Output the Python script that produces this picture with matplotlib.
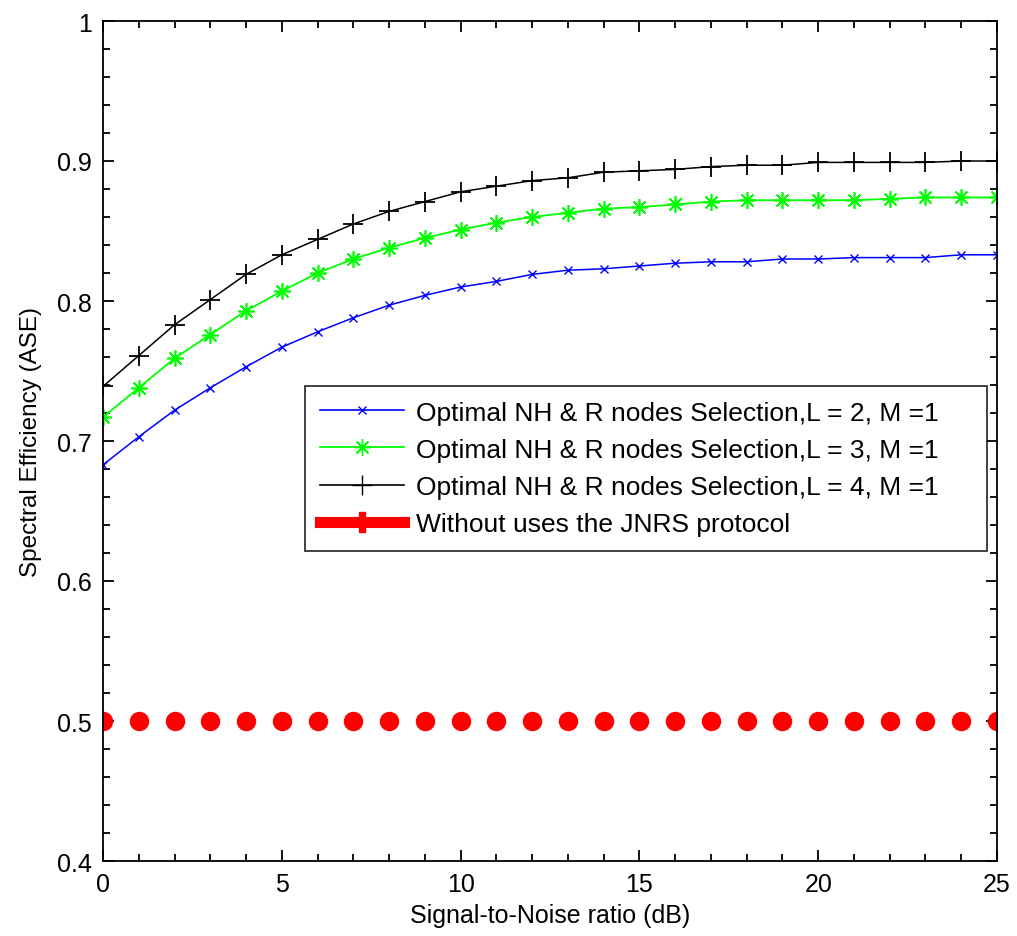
import matplotlib
matplotlib.use("Agg")
import matplotlib.pyplot as plt
from matplotlib.lines import Line2D
from matplotlib.ticker import MultipleLocator

plt.rcParams['font.family'] = ['Liberation Sans', 'DejaVu Sans']

snr = list(range(0, 26))

ase_l2 = [0.683, 0.703, 0.722, 0.738, 0.753, 0.767, 0.778, 0.788, 0.797, 0.804,
          0.810, 0.814, 0.819, 0.822, 0.823, 0.825, 0.827, 0.828, 0.828, 0.830,
          0.830, 0.831, 0.831, 0.831, 0.833, 0.833]
ase_l3 = [0.717, 0.738, 0.759, 0.776, 0.793, 0.807, 0.820, 0.830, 0.838, 0.845,
          0.851, 0.856, 0.860, 0.863, 0.866, 0.867, 0.869, 0.871, 0.872, 0.872,
          0.872, 0.872, 0.873, 0.874, 0.874, 0.874]
ase_l4 = [0.739, 0.761, 0.783, 0.801, 0.819, 0.833, 0.844, 0.855, 0.864, 0.871,
          0.878, 0.882, 0.886, 0.888, 0.892, 0.893, 0.894, 0.896, 0.897, 0.897,
          0.899, 0.899, 0.899, 0.899, 0.900, 0.900]
ase_base = [0.5] * len(snr)

labels = ["Optimal NH & R nodes Selection,L = 2, M =1",
          "Optimal NH & R nodes Selection,L = 3, M =1",
          "Optimal NH & R nodes Selection,L = 4, M =1",
          "Without uses the JNRS protocol"]

fig = plt.figure(figsize=(10.17, 9.37), dpi=100)
ax = fig.add_axes([103/1017, 1 - 862/937, 894/1017, 840/937])

ax.plot(snr, ase_l2, '-', color='#0000ff', lw=1.1, marker='x', ms=6, mew=1)
ax.plot(snr, ase_l3, '-', color='#00ff00', lw=1.3, marker=(8, 2, 0), ms=12, mew=1.2)
ax.plot(snr, ase_l4, '-', color='black', lw=1.1, marker='+', ms=15, mew=1.3)
ax.plot(snr, ase_base, linestyle='none', color='red', marker='o', ms=13, mec='red')

handles = [Line2D([], [], color='#0000ff', lw=1.2, marker='x', ms=6),
           Line2D([], [], color='#00ff00', lw=1.3, marker=(8, 2, 0), ms=12),
           Line2D([], [], color='black', lw=1.2, marker='+', ms=15),
           Line2D([], [], color='red', lw=8, marker='P', ms=14)]
leg = ax.legend(handles, labels, loc='upper left', mode='expand',
                bbox_to_anchor=(202/894, 315/840, 682/894, 160/840),
                fontsize=19, frameon=True, fancybox=False, edgecolor='black',
                handlelength=3.2, handletextpad=0.45, borderpad=0.55, labelspacing=0.5,
                borderaxespad=0)
leg.get_frame().set_linewidth(1.3)

ax.set_xlim(0, 25)
ax.set_ylim(0.4, 1)
ax.xaxis.set_major_locator(MultipleLocator(5))
ax.xaxis.set_minor_locator(MultipleLocator(1))
ax.yaxis.set_major_locator(MultipleLocator(0.1))
ax.yaxis.set_minor_locator(MultipleLocator(0.02))
ax.yaxis.set_major_formatter(plt.FuncFormatter(lambda v, p: ('%g' % round(v, 2))))
ax.tick_params(which='both', direction='in', top=True, right=True, labelsize=18, width=1.3)
ax.tick_params(which='major', length=8)
ax.tick_params(axis='x', which='major', pad=8)
ax.tick_params(axis='y', which='major', pad=8)
ax.tick_params(which='minor', length=5)
for s in ax.spines.values():
    s.set_linewidth(1.3)

ax.set_xlabel("Signal-to-Noise ratio (dB)", fontsize=18, labelpad=5)
ax.set_ylabel("Spectral Efficiency (ASE)", fontsize=17.5, labelpad=11)

fig.savefig("out.png", dpi=100)
